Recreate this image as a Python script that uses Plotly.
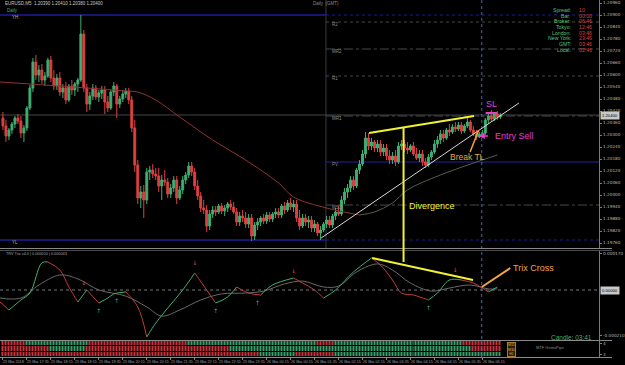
import plotly.graph_objects as go

# ---------------- data ----------------
opens = [1.20385, 1.20345, 1.20295, 1.20325, 1.20355, 1.20385, 1.20370, 1.20310, 1.20335, 1.20435,
         1.20535, 1.20665, 1.20600, 1.20625, 1.20575, 1.20595, 1.20675, 1.20585, 1.20545, 1.20585,
         1.20515, 1.20535, 1.20475, 1.20545, 1.20525, 1.20555, 1.20575, 1.20805, 1.20535, 1.20455,
         1.20495, 1.20535, 1.20490, 1.20510, 1.20525, 1.20465, 1.20435, 1.20515, 1.20545, 1.20455,
         1.20480, 1.20505, 1.20520, 1.20475, 1.20335, 1.20150, 1.19985, 1.20015, 1.19975, 1.20115,
         1.20125, 1.20105, 1.20095, 1.20045, 1.20075, 1.20065, 1.20005, 1.20035, 1.20075, 1.19985,
         1.20025, 1.20075, 1.20100, 1.20145, 1.20115, 1.20045, 1.19995, 1.19935, 1.19925, 1.19845,
         1.19905, 1.19925, 1.19915, 1.19945, 1.19920, 1.19935, 1.19955, 1.19940, 1.19915, 1.19865,
         1.19895, 1.19885, 1.19855, 1.19885, 1.19795, 1.19850, 1.19865, 1.19885, 1.19870, 1.19900,
         1.19880, 1.19905, 1.19915, 1.19900, 1.19945, 1.19925, 1.19960, 1.19940, 1.19955, 1.19885,
         1.19845, 1.19885, 1.19865, 1.19875, 1.19835, 1.19855, 1.19810, 1.19825, 1.19855, 1.19875,
         1.19850, 1.19895, 1.19915, 1.19905, 1.19975, 1.20015, 1.20035, 1.20075, 1.20045, 1.20125,
         1.20155, 1.20205, 1.20285, 1.20245, 1.20265, 1.20235, 1.20255, 1.20215, 1.20235, 1.20195,
         1.20175, 1.20195, 1.20165, 1.20245, 1.20255, 1.20235, 1.20225, 1.20245, 1.20205, 1.20185,
         1.20205, 1.20165, 1.20150, 1.20190, 1.20215, 1.20255, 1.20275, 1.20305, 1.20285, 1.20325,
         1.20315, 1.20340, 1.20330, 1.20350, 1.20320, 1.20345, 1.20365, 1.20325, 1.20305, 1.20290,
         1.20305, 1.20310, 1.20375, 1.20395, 1.20380, 1.20405, 1.20390]
highs = [1.20415, 1.20375, 1.20335, 1.20365, 1.20395, 1.20405, 1.20395, 1.20350, 1.20445, 1.20550,
         1.20685, 1.20700, 1.20650, 1.20655, 1.20615, 1.20685, 1.20695, 1.20625, 1.20605, 1.20615,
         1.20555, 1.20565, 1.20555, 1.20575, 1.20565, 1.20585, 1.20900, 1.20825, 1.20555, 1.20515,
         1.20555, 1.20550, 1.20525, 1.20545, 1.20545, 1.20495, 1.20525, 1.20565, 1.20555, 1.20495,
         1.20525, 1.20535, 1.20535, 1.20495, 1.20375, 1.20175, 1.20045, 1.20050, 1.20135, 1.20145,
         1.20155, 1.20135, 1.20135, 1.20100, 1.20125, 1.20085, 1.20055, 1.20095, 1.20095, 1.20045,
         1.20095, 1.20115, 1.20165, 1.20165, 1.20135, 1.20075, 1.20015, 1.19975, 1.19950, 1.19925,
         1.19945, 1.19945, 1.19955, 1.19960, 1.19950, 1.19965, 1.19975, 1.19965, 1.19935, 1.19915,
         1.19925, 1.19915, 1.19905, 1.19905, 1.19865, 1.19885, 1.19895, 1.19905, 1.19915, 1.19915,
         1.19915, 1.19935, 1.19935, 1.19955, 1.19965, 1.19975, 1.19985, 1.19975, 1.19975, 1.19925,
         1.19905, 1.19905, 1.19895, 1.19895, 1.19875, 1.19865, 1.19845, 1.19865, 1.19895, 1.19895,
         1.19905, 1.19935, 1.19945, 1.19995, 1.20035, 1.20055, 1.20095, 1.20095, 1.20135, 1.20175,
         1.20225, 1.20315, 1.20310, 1.20285, 1.20275, 1.20275, 1.20275, 1.20255, 1.20255, 1.20225,
         1.20215, 1.20225, 1.20265, 1.20275, 1.20275, 1.20265, 1.20255, 1.20265, 1.20235, 1.20225,
         1.20225, 1.20185, 1.20205, 1.20225, 1.20275, 1.20295, 1.20325, 1.20325, 1.20335, 1.20355,
         1.20355, 1.20365, 1.20365, 1.20365, 1.20355, 1.20385, 1.20375, 1.20345, 1.20325, 1.20315,
         1.20325, 1.20385, 1.20415, 1.20425, 1.20415, 1.20420, 1.20410]
lows = [1.20325, 1.20265, 1.20275, 1.20305, 1.20335, 1.20355, 1.20285, 1.20265, 1.20320, 1.20425,
        1.20515, 1.20575, 1.20565, 1.20555, 1.20545, 1.20585, 1.20565, 1.20525, 1.20525, 1.20495,
        1.20485, 1.20455, 1.20465, 1.20500, 1.20495, 1.20515, 1.20565, 1.20515, 1.20415, 1.20425,
        1.20475, 1.20475, 1.20465, 1.20480, 1.20405, 1.20415, 1.20425, 1.20495, 1.20385, 1.20435,
        1.20465, 1.20485, 1.20455, 1.20315, 1.20115, 1.19955, 1.19935, 1.19885, 1.19955, 1.20075,
        1.20085, 1.20075, 1.20015, 1.19975, 1.20045, 1.19985, 1.19985, 1.20015, 1.19955, 1.19975,
        1.20005, 1.20055, 1.20085, 1.20095, 1.20025, 1.19975, 1.19915, 1.19905, 1.19815, 1.19825,
        1.19885, 1.19895, 1.19905, 1.19905, 1.19895, 1.19915, 1.19925, 1.19905, 1.19845, 1.19845,
        1.19865, 1.19835, 1.19835, 1.19770, 1.19775, 1.19825, 1.19845, 1.19855, 1.19855, 1.19865,
        1.19865, 1.19885, 1.19885, 1.19885, 1.19905, 1.19915, 1.19925, 1.19915, 1.19865, 1.19825,
        1.19835, 1.19845, 1.19835, 1.19815, 1.19815, 1.19795, 1.19775, 1.19815, 1.19835, 1.19835,
        1.19835, 1.19875, 1.19895, 1.19895, 1.19955, 1.19985, 1.20015, 1.20025, 1.20035, 1.20105,
        1.20145, 1.20185, 1.20225, 1.20225, 1.20215, 1.20215, 1.20195, 1.20195, 1.20175, 1.20155,
        1.20155, 1.20145, 1.20155, 1.20225, 1.20215, 1.20205, 1.20215, 1.20195, 1.20175, 1.20165,
        1.20145, 1.20135, 1.20140, 1.20175, 1.20205, 1.20235, 1.20255, 1.20265, 1.20275, 1.20295,
        1.20305, 1.20315, 1.20320, 1.20305, 1.20310, 1.20335, 1.20315, 1.20295, 1.20275, 1.20285,
        1.20290, 1.20300, 1.20355, 1.20365, 1.20370, 1.20375, 1.20380]
closes = [1.20345, 1.20295, 1.20325, 1.20355, 1.20385, 1.20370, 1.20310, 1.20335, 1.20435, 1.20535,
          1.20665, 1.20600, 1.20625, 1.20575, 1.20595, 1.20675, 1.20585, 1.20545, 1.20585, 1.20515,
          1.20535, 1.20475, 1.20545, 1.20525, 1.20555, 1.20575, 1.20805, 1.20535, 1.20455, 1.20495,
          1.20535, 1.20490, 1.20510, 1.20525, 1.20465, 1.20435, 1.20515, 1.20545, 1.20455, 1.20480,
          1.20505, 1.20520, 1.20475, 1.20335, 1.20150, 1.19985, 1.20015, 1.19975, 1.20115, 1.20125,
          1.20105, 1.20095, 1.20045, 1.20075, 1.20065, 1.20005, 1.20035, 1.20075, 1.19985, 1.20025,
          1.20075, 1.20100, 1.20145, 1.20115, 1.20045, 1.19995, 1.19935, 1.19925, 1.19845, 1.19905,
          1.19925, 1.19915, 1.19945, 1.19920, 1.19935, 1.19955, 1.19940, 1.19915, 1.19865, 1.19895,
          1.19885, 1.19855, 1.19885, 1.19795, 1.19850, 1.19865, 1.19885, 1.19870, 1.19900, 1.19880,
          1.19905, 1.19915, 1.19900, 1.19945, 1.19925, 1.19960, 1.19940, 1.19955, 1.19885, 1.19845,
          1.19885, 1.19865, 1.19875, 1.19835, 1.19855, 1.19810, 1.19825, 1.19855, 1.19875, 1.19850,
          1.19895, 1.19915, 1.19905, 1.19975, 1.20015, 1.20035, 1.20075, 1.20045, 1.20125, 1.20155,
          1.20205, 1.20285, 1.20245, 1.20265, 1.20235, 1.20255, 1.20215, 1.20235, 1.20195, 1.20175,
          1.20195, 1.20165, 1.20245, 1.20255, 1.20235, 1.20225, 1.20245, 1.20205, 1.20185, 1.20205,
          1.20165, 1.20150, 1.20190, 1.20215, 1.20255, 1.20275, 1.20305, 1.20285, 1.20325, 1.20315,
          1.20340, 1.20330, 1.20350, 1.20320, 1.20345, 1.20365, 1.20325, 1.20305, 1.20290, 1.20305,
          1.20310, 1.20375, 1.20395, 1.20380, 1.20405, 1.20390, 1.20400]
candle_idx = list(range(len(opens)))

# moving average (falling part red, rising part grey-green)
ma_fall_idx = [-1, 14, 28, 41, 45, 51, 59, 70, 81, 92, 97, 108, 119]
ma_fall = [1.20565, 1.20550, 1.20535, 1.20520, 1.20515, 1.20475, 1.20390, 1.20275,
           1.20175, 1.20060, 1.19990, 1.19935, 1.19900]
ma_rise_idx = [119, 124, 130, 135, 146, 165]
ma_rise = [1.19900, 1.19915, 1.19960, 1.20025, 1.20100, 1.20200]

# key price levels
yh_level, yl_level = 1.20900, 1.19775
pivot_names = ["R2", "MR2", "R1", "MR1", "PV", "MS1"]
pivot_levels = [1.20865, 1.20730, 1.20595, 1.20395, 1.20165, 1.19950]
pivot_start = 107.8

# Trix indicator
trix_idx = [-1, 2, 6, 9, 13, 15, 19, 22, 25, 28, 32, 35, 37, 41, 45, 48, 51, 55, 60, 64,
            68, 71, 75, 78, 82, 86, 90, 97, 100, 104, 107, 111, 117, 123, 126, 130, 133, 137, 142, 145,
            149, 153, 157, 160, 162, 165]
trix_fast = [-0.000055, -0.000092, -0.000046, -0.000014, 0.000125, 0.000129, 0.000092, 0.000014, -0.000055, 0.0,
             -0.000060, -0.000037, -0.000018, -0.000009, -0.000078, -0.000216, -0.000152, -0.000083, 0.0, 0.000078,
             0.0, -0.000060, -0.000032, 0.000014, -0.000014, -0.000023, 0.000023, 0.000055, 0.000032, 0.0,
             -0.000037, 0.0, 0.000083, 0.000147, 0.000115, 0.000046, -0.000014, -0.000023, -0.000046, -0.000014,
             0.000046, 0.000046, 0.000032, 0.000009, -0.000009, 0.000014]
sig_idx = [-1, 6, 12, 19, 25, 32, 41, 48, 53, 59, 66, 73, 81, 87, 94, 100, 107, 112, 118, 125,
           130, 136, 143, 149, 156, 162, 165]
trix_signal = [-0.000037, -0.000037, 0.000023, 0.000069, 0.000051, 0.0, -0.000028, -0.000078, -0.000120, -0.000092,
               -0.000046, -0.000018, -0.000014, -0.000005, 0.000028, 0.000041, 0.000014, 0.000018, 0.000083, 0.000120,
               0.000092, 0.000032, -0.000005, 0.000009, 0.000023, 0.000005, 0.000005]
arrow_dn_idx = [27, 64, 97, 151]
arrow_dn_val = [0.000032, 0.000120, 0.000087, 0.000092]
arrow_up_idx = [32, 38, 71, 85, 142]
arrow_up_val = [-0.000097, -0.000055, -0.000097, -0.000064, -0.000083]

# multi-timeframe strip: runs of (first index, last index, state 1=up 0=down)
strip_top = [(0, 7, 0), (8, 28, 1), (29, 61, 0), (62, 104, 1), (105, 110, 0), (111, 153, 1), (154, 166, 0)]
strip_mid = [(0, 15, 0), (16, 27, 1), (28, 75, 0), (76, 156, 1), (157, 166, 0)]
strip_bot = [(0, 85, 0), (86, 97, 1), (98, 110, 0), (111, 166, 1)]

# time axis
time_idx = [0, 8, 16, 24, 32, 40, 48, 56, 64, 72, 80, 88, 96, 104, 112, 120, 128, 136, 144, 152, 160]
time_labels = ["25 Mar 2018", "25 Mar 17:35", "25 Mar 18:15", "25 Mar 18:55", "25 Mar 19:35",
               "25 Mar 20:15", "25 Mar 20:55", "25 Mar 21:35", "25 Mar 22:15", "25 Mar 22:55",
               "25 Mar 23:35", "26 Mar 00:15", "26 Mar 00:55", "26 Mar 01:35", "26 Mar 02:15",
               "26 Mar 02:55", "26 Mar 03:35", "26 Mar 04:15", "26 Mar 04:55", "26 Mar 05:35",
               "26 Mar 06:15"]

info_labels = ["Spread:", "Bar:", "Broker:", "Tokyo:", "London:", "New York:", "GMT:", "Local:"]
info_values = ["10", "00:00", "06:46", "12:46", "03:46", "23:46", "03:46", "02:46"]

# drawn analysis
trend_idx = [106.2, 172.2]; trend_px = [1.19785, 1.20460]
top_idx = [122.2, 157.2]; top_px = [1.20310, 1.20395]
trix_div_idx = [123.2, 156.9]; trix_div_val = [0.000147, 0.000046]
div_vline_idx = 133.7
now_idx = 159.8
sl_idx = [161.1, 165.0]; sl_px = 1.20410
break_idx = [155.9, 158.8]; break_px = [1.20215, 1.20325]
cross_idx = [159.8, 169.3]; cross_val = [0.000014, 0.000101]
entry_arrow_idx = [162.4, 158.8]; entry_px = 1.20295

# ---------------- styling ----------------
W, H = 625, 365
def py(p):  # pixel row -> paper y
    return 1 - p / H

XR = [-0.98, 199.02]
XD = [0, 612 / W]
GREEN = "#3fae72"
RED = "#de4040"
YEL = "#f2f233"
MAG = "#e63fc8"
ORG = "#f2a540"
GRID = "#7a7a7a"
FONT = "Liberation Sans"

fig = go.Figure()

fig.add_trace(go.Candlestick(
    x=candle_idx, open=opens, high=highs, low=lows, close=closes,
    increasing=dict(line=dict(color=GREEN, width=1), fillcolor=GREEN),
    decreasing=dict(line=dict(color=RED, width=1), fillcolor=RED),
    whiskerwidth=0, hoverinfo="skip", xaxis="x", yaxis="y"))

fig.add_trace(go.Scatter(x=ma_fall_idx, y=ma_fall, mode="lines",
                         line=dict(color="#8e3434", width=1, shape="spline"),
                         xaxis="x", yaxis="y", hoverinfo="skip"))
fig.add_trace(go.Scatter(x=ma_rise_idx, y=ma_rise, mode="lines",
                         line=dict(color="#56604e", width=1, shape="spline"),
                         xaxis="x", yaxis="y", hoverinfo="skip"))

# trix signal line
fig.add_trace(go.Scatter(x=sig_idx, y=trix_signal, mode="lines",
                         line=dict(color="#6a6a6a", width=1, shape="spline"),
                         xaxis="x2", yaxis="y2", hoverinfo="skip"))
# trix colored line
segs = []
cur = None
for k in range(len(trix_idx) - 1):
    col = GREEN if trix_fast[k + 1] >= trix_fast[k] else "#c23a3a"
    if col != cur:
        segs.append([col, [trix_idx[k]], [trix_fast[k]]])
        cur = col
    segs[-1][1].append(trix_idx[k + 1])
    segs[-1][2].append(trix_fast[k + 1])
for col, xs, ys in segs:
    fig.add_trace(go.Scatter(x=xs, y=ys, mode="lines",
                             line=dict(color=col, width=1, shape="spline"),
                             xaxis="x2", yaxis="y2", hoverinfo="skip"))
fig.add_trace(go.Scatter(x=arrow_dn_idx, y=arrow_dn_val, mode="text", text=["↓"] * len(arrow_dn_idx),
                         textfont=dict(color="#e04848", size=6, family="DejaVu Sans"),
                         xaxis="x2", yaxis="y2", hoverinfo="skip"))
fig.add_trace(go.Scatter(x=arrow_up_idx, y=arrow_up_val, mode="text", text=["↑"] * len(arrow_up_idx),
                         textfont=dict(color="#3fae72", size=6, family="DejaVu Sans"),
                         xaxis="x2", yaxis="y2", hoverinfo="skip"))

# strip heatmap
def expand(runs):
    row = [0] * len(candle_idx)
    for a, b, s in runs:
        for i in range(a, b + 1):
            row[i] = s
    return row
z = [expand(strip_bot), expand(strip_mid), expand(strip_top)]
fig.add_trace(go.Heatmap(x=candle_idx, y=[0, 1, 2], z=z, zmin=0, zmax=1,
                         colorscale=[[0, "#c8323a"], [1, "#3a9e68"]], showscale=False,
                         xgap=1, ygap=1, xaxis="x3", yaxis="y3", hoverinfo="skip"))

shapes = []
def hline(y, x0, x1, color, width=1, dash="solid", xref="x", yref="y"):
    shapes.append(dict(type="line", xref=xref, yref=yref, x0=x0, x1=x1, y0=y, y1=y,
                       line=dict(color=color, width=width, dash=dash), layer="below"))

# yesterday high / low, bid line, pivots
hline(yh_level, XR[0], pivot_start, "#1c1c9a", 1.5)
hline(yh_level, pivot_start, XR[1], "#1c1c9a", 1, "dot")
hline(yl_level, XR[0], pivot_start, "#1c1c9a", 1.5)
hline(yl_level, pivot_start, XR[1], "#1c1c9a", 1, "dot")
hline(closes[-1], XR[0], XR[1], "#444444", 1)
for name, lvl in zip(pivot_names, pivot_levels):
    if name == "PV":
        hline(lvl, pivot_start, XR[1], "#22229a", 1.2)
    elif name.startswith("M"):
        hline(lvl, pivot_start, XR[1], "#484848", 1, "dashdot")
    else:
        hline(lvl, pivot_start, XR[1], "#484848", 1, "dot")
# day separator
shapes.append(dict(type="line", xref="x", yref="paper", x0=pivot_start, x1=pivot_start,
                   y0=py(248), y1=1, line=dict(color="#3a3a3a", width=1), layer="below"))
# current time dotted
shapes.append(dict(type="line", xref="x", yref="paper", x0=now_idx, x1=now_idx,
                   y0=py(357), y1=1, line=dict(color="#4a63c8", width=1, dash="dot")))
# zero line of trix
hline(0, XR[0], XR[1], "#777777", 1, "dot", xref="x2", yref="y2")
# panel separators
for yy, c in [(248.5, "#8a8a8a"), (250.5, "#4a4a4a"), (340.5, "#8a8a8a"), (357.5, "#8a8a8a")]:
    shapes.append(dict(type="line", xref="paper", yref="paper", x0=0, x1=1, y0=py(yy), y1=py(yy),
                       line=dict(color=c, width=1)))

# analysis drawings
shapes.append(dict(type="line", xref="x", yref="y", x0=trend_idx[0], x1=trend_idx[1],
                   y0=trend_px[0], y1=trend_px[1], line=dict(color="#d8d8d8", width=1)))
shapes.append(dict(type="line", xref="x", yref="y", x0=top_idx[0], x1=top_idx[1],
                   y0=top_px[0], y1=top_px[1], line=dict(color=YEL, width=2)))
shapes.append(dict(type="line", xref="x", yref="paper", x0=div_vline_idx, x1=div_vline_idx,
                   y0=py(262), y1=py(128), line=dict(color=YEL, width=2)))
shapes.append(dict(type="line", xref="x2", yref="y2", x0=trix_div_idx[0], x1=trix_div_idx[1],
                   y0=trix_div_val[0], y1=trix_div_val[1], line=dict(color=YEL, width=2)))
shapes.append(dict(type="line", xref="x", yref="y", x0=sl_idx[0], x1=sl_idx[1],
                   y0=sl_px, y1=sl_px, line=dict(color=MAG, width=2)))
shapes.append(dict(type="line", xref="x", yref="y", x0=break_idx[0], x1=break_idx[1],
                   y0=break_px[0], y1=break_px[1], line=dict(color=ORG, width=1.5)))
shapes.append(dict(type="line", xref="x2", yref="y2", x0=cross_idx[0], x1=cross_idx[1],
                   y0=cross_val[0], y1=cross_val[1], line=dict(color=ORG, width=2)))

ann = []
def text(x, y, s, color, size, xref="x", yref="y", xanchor="left", yanchor="middle", **kw):
    ann.append(dict(x=x, y=y, xref=xref, yref=yref, text=s, showarrow=False,
                    font=dict(color=color, size=size, family=kw.pop("family", FONT)),
                    xanchor=xanchor, yanchor=yanchor, **kw))

text(135.0, 1.19945, "Divergence", YEL, 9)
text(163.1, 1.20455, "SL", MAG, 9, xanchor="center")
text(163.4, entry_px, "Entry Sell", MAG, 9)
text(148.4, 1.20188, "Break TL", ORG, 8.5)
text(169.6, 0.000101, "Trix Cross", ORG, 9, xref="x2", yref="y2")
ann.append(dict(x=entry_arrow_idx[1], y=entry_px, ax=entry_arrow_idx[0], ay=entry_px,
                xref="x", yref="y", axref="x", ayref="y", text="", showarrow=True,
                arrowhead=2, arrowsize=0.8, arrowwidth=1.5, arrowcolor=MAG))

for name, lvl in zip(pivot_names, pivot_levels):
    text(pivot_start + 1.2, lvl - 0.00014, name, "#8c8c8c", 4.5)
text(2.5, yh_level - 0.00012, "YH", "#b0b0b0", 4.5)
text(2.5, yl_level - 0.00014, "YL", "#b0b0b0", 4.5)

# header & panel titles
hdr = "EURUSD,M5  %.5f %.5f %.5f %.5f" % (opens[-1], highs[-1], lows[-1], closes[-1])
text(3 / W, py(3.5), hdr, "#c8c8c8", 4.5, xref="paper", yref="paper")
text(5 / W, py(10), "Daily", "#3fae72", 4.5, xref="paper", yref="paper")
text(318 / W, py(4), "Daily  (GMT)", "#8c8c8c", 4.5, xref="paper", yref="paper")
text(4 / W, py(253.5), "TRV Trix v4.0 | 0.000010 | 0.000043", "#a0a0a0", 3.8, xref="paper", yref="paper")

for k, (lab, val) in enumerate(zip(info_labels, info_values)):
    yy = 10 + k * 5.7
    text(585 / W, py(yy), lab, "#55c07f", 5.2, xref="paper", yref="paper", xanchor="right")
    text(589 / W, py(yy), val, "#d84545", 5.2, xref="paper", yref="paper")

text(607 / W, py(337.5), "Candle: 03:41", "#3fae72", 6.5, xref="paper", yref="paper", xanchor="right")
text(545 / W, py(347), "MTF GrimsPips", "#8c8c8c", 4, xref="paper", yref="paper")
ann.append(dict(x=518 / W, y=py(349), xref="paper", yref="paper", showarrow=False,
                xanchor="left", yanchor="middle",
                text="M15<br>M30<br>H1", font=dict(color="#e0a83a", size=3.5, family=FONT),
                bordercolor="#b07820", borderwidth=1, borderpad=0, bgcolor="#2a1e08"))

# highlighted current values on the right axis
text(613 / W, closes[-1], "%.5f" % closes[-1], "#000000", 4.2, xref="paper", yref="y",
     bgcolor="#c8c8c8")
text(613 / W, 0.0, "0.00000", "#000000", 4.2, xref="paper", yref="y2", bgcolor="#c8c8c8")

for i, lab in zip(time_idx, time_labels):
    text(i - 0.5, py(361.5), lab, "#a0a0a0", 3.7, yref="paper", xref="x3")

axis_common = dict(showgrid=False, zeroline=False)
fig.update_layout(
    width=W, height=H, margin=dict(l=0, r=0, t=0, b=0),
    paper_bgcolor="#000000", plot_bgcolor="#000000",
    showlegend=False, shapes=shapes, annotations=ann, boxgap=0.1,
    xaxis=dict(domain=XD, range=XR, anchor="y", showticklabels=False, ticks="",
               rangeslider=dict(visible=False), **axis_common),
    xaxis2=dict(domain=XD, range=XR, anchor="y2", matches="x", showticklabels=False, ticks="", **axis_common),
    xaxis3=dict(domain=XD, range=XR, anchor="y3", matches="x", showticklabels=False,
                ticks="outside", tickvals=time_idx, ticklen=2, tickcolor="#8a8a8a", **axis_common),
    yaxis=dict(domain=[py(248), 1], range=[1.19735, 1.20975], anchor="x", side="right",
               tick0=1.2096, dtick=0.0006, tickformat=".5f", ticks="outside", ticklen=2,
               tickcolor=GRID, showline=True, linecolor=GRID, linewidth=1,
               tickfont=dict(size=4.2, color="#b8b8b8", family="DejaVu Sans"), **axis_common),
    yaxis2=dict(domain=[py(340), py(250)], range=[-0.00023, 0.000184], anchor="x2", side="right",
                tickvals=[0.00017, -0.00021], ticktext=["0.000170", "-0.000210"], ticks="outside",
                ticklen=2, tickcolor=GRID, showline=True, linecolor=GRID, linewidth=1,
                tickfont=dict(size=4.2, color="#b8b8b8", family="DejaVu Sans"), **axis_common),
    yaxis3=dict(domain=[py(357), py(341)], range=[-0.5, 2.5], anchor="x3", side="right",
                tickvals=[2, 0], ticktext=["4", "3"], ticks="outside", ticklen=2, tickcolor=GRID,
                showline=True, linecolor=GRID, linewidth=1,
                tickfont=dict(size=4.2, color="#b8b8b8", family="DejaVu Sans"), **axis_common),
)

fig.write_html("out.html")
